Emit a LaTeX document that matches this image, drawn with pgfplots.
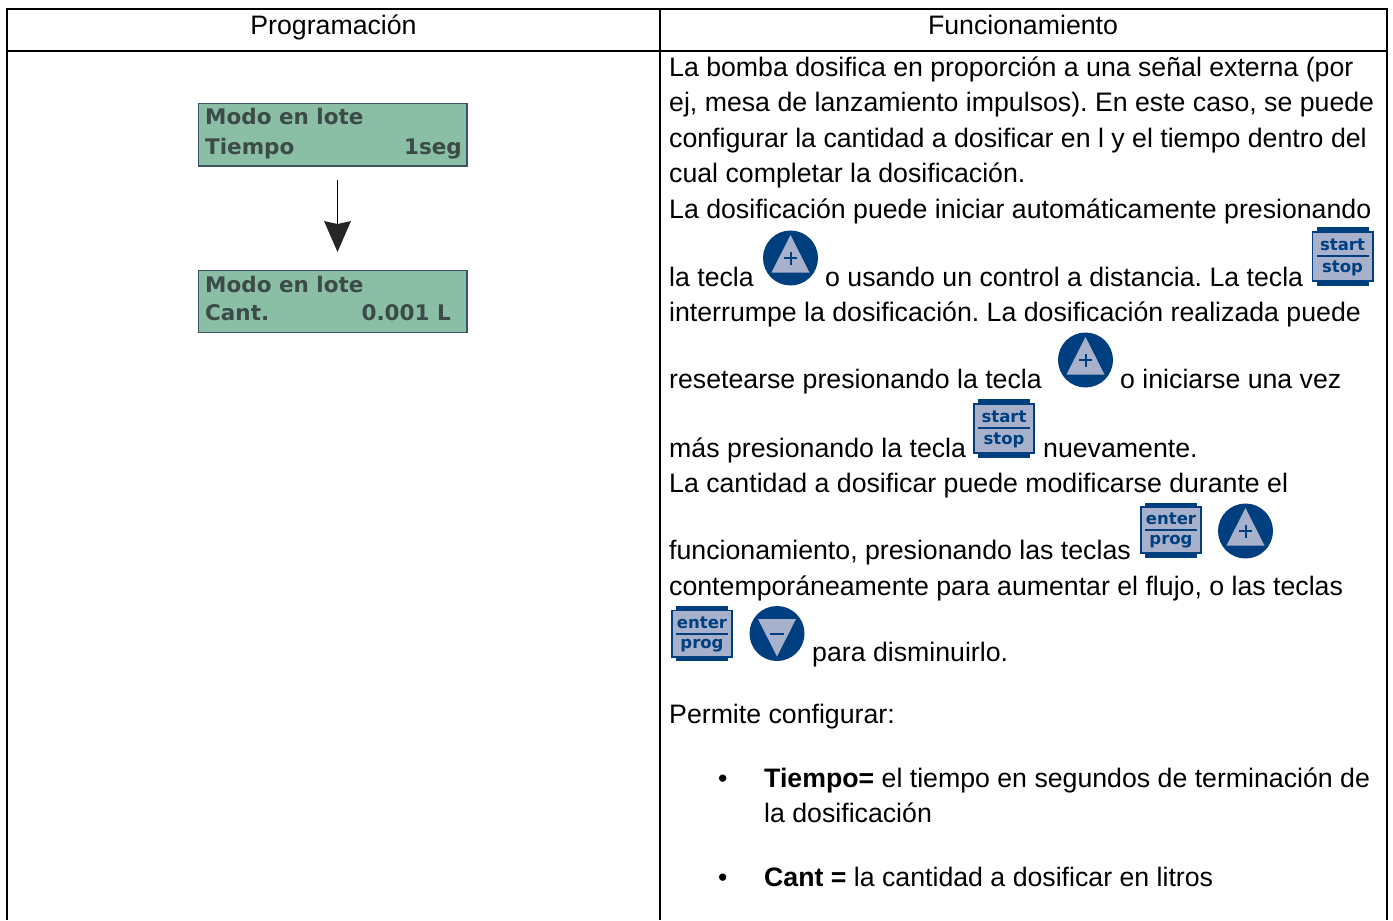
\documentclass[border=0pt]{standalone}
\usepackage{pgfplots}
\pgfplotsset{compat=1.18}
\usepackage{fontspec}
\setmainfont{Liberation Sans}
\newfontfamily\lcdfont{DejaVu Sans}[BoldFont={DejaVu Sans Bold}]
\frenchspacing
\definecolor{kb}{HTML}{003F7F}
\definecolor{kl}{HTML}{A8B1CC}
\definecolor{lcdg}{HTML}{8ABFA6}
\definecolor{lcdb}{HTML}{3B5565}
\definecolor{lcdt}{HTML}{3C4A48}
\newcommand{\T}[3]{\node[anchor=base west,inner sep=0pt,font=\fontsize{26.7}{30}\selectfont,text=black] at (axis cs:#1,#2) {#3};}
\newcommand{\LCD}[4][]{\node[anchor=base #1,inner sep=0pt,font=\lcdfont\bfseries\fontsize{21.5}{24}\selectfont,text=lcdt] at (axis cs:#2,#3) {#4};}
\newcommand{\KeyBase}[2]{%
 \fill[kb] (axis cs:#1-26,#2-29.5) rectangle (axis cs:#1+26,#2+29.5);
 \fill[kb] (axis cs:#1-31,#2-25) rectangle (axis cs:#1+31,#2+26);
 \fill[kl] (axis cs:#1-29.3,#2-23.3) rectangle (axis cs:#1+29.3,#2+24.3);
 \fill[kb] (axis cs:#1-26,#2-1) rectangle (axis cs:#1+26,#2+1.3);}
\newcommand{\EnterBase}[2]{%
 \fill[kb] (axis cs:#1-26,#2-27.5) rectangle (axis cs:#1+26,#2+27.5);
 \fill[kb] (axis cs:#1-31,#2-24) rectangle (axis cs:#1+31,#2+24);
 \fill[kl] (axis cs:#1-29.3,#2-22.3) rectangle (axis cs:#1+29.3,#2+22.3);
 \fill[kb] (axis cs:#1-26,#2-1) rectangle (axis cs:#1+26,#2+1.3);}
\newcommand{\KeyText}[3]{\node[inner sep=0pt,anchor=base,font=\lcdfont\bfseries\fontsize{16.5}{18}\selectfont,text=kb] at (axis cs:#1,#2) {#3};}
\newcommand{\Start}[2]{\KeyBase{#1}{#2}\KeyText{#1}{#2-5.5}{start}\KeyText{#1}{#2+16.5}{stop}}
\newcommand{\Enter}[2]{\EnterBase{#1}{#2}\KeyText{#1}{#2-5.5}{enter}\KeyText{#1}{#2+14.5}{prog}}
\newcommand{\Plus}[2]{%
 \node[circle,fill=kb,minimum size=55pt,inner sep=0pt] at (axis cs:#1,#2) {};
 \fill[kl] (axis cs:#1,#2-23) -- (axis cs:#1+19,#2+14.5) -- (axis cs:#1-19,#2+14.5) -- cycle;
 \fill[kb] (axis cs:#1-6.5,#2-1) rectangle (axis cs:#1+6.5,#2+1);
 \fill[kb] (axis cs:#1-1,#2-6.5) rectangle (axis cs:#1+1,#2+6.5);}
\newcommand{\Minus}[2]{%
 \node[circle,fill=kb,minimum size=55pt,inner sep=0pt] at (axis cs:#1,#2) {};
 \fill[kl] (axis cs:#1,#2+23) -- (axis cs:#1+19,#2-14.5) -- (axis cs:#1-19,#2-14.5) -- cycle;
 \fill[kb] (axis cs:#1-7,#2-1) rectangle (axis cs:#1+7,#2+1);}
\begin{document}
\begin{tikzpicture}
\begin{axis}[scale only axis,width=1393pt,height=920pt,xmin=0,xmax=1393,ymin=0,ymax=920,y dir=reverse,hide axis,clip=false]
\fill[white] (axis cs:0,0) rectangle (axis cs:1393,920);
% table rules
\addplot[black,line width=2pt,forget plot] coordinates {(7,920) (7,9) (1387,9) (1387,920)};
\addplot[black,line width=2pt,forget plot] coordinates {(6,51) (1388,51)};
\addplot[black,line width=2pt,forget plot] coordinates {(660,9) (660,920)};
% headers
\node[anchor=base,inner sep=0pt,font=\fontsize{26.7}{30}\selectfont] at (axis cs:333.5,34) {Programación};
\node[anchor=base,inner sep=0pt,font=\fontsize{26.7}{30}\selectfont] at (axis cs:1023,34) {Funcionamiento};
% LCDs
\draw[lcdb,fill=lcdg,line width=1.6pt] (axis cs:198.5,103.5) rectangle (axis cs:467,166);
\draw[lcdb,fill=lcdg,line width=1.6pt] (axis cs:198.5,270.5) rectangle (axis cs:467,332.5);
\LCD[west]{205}{124}{Modo en lote}
\LCD[west]{205}{154}{Tiempo}
\LCD[east]{462}{154}{1seg}
\LCD[west]{205}{292}{Modo en lote}
\LCD[west]{205}{320}{Cant.}
\LCD[east]{451}{320}{0.001 L}
% arrow
\addplot[black,line width=1pt,forget plot] coordinates {(337.5,180) (337.5,225)};
\fill[black!85] (axis cs:324,221) -- (axis cs:337.5,224) -- (axis cs:351,221) -- (axis cs:337.5,252) -- cycle;
% body text
\T{669}{76}{La bomba dosifica en proporción a una señal externa (por}
\T{669}{111}{ej, mesa de lanzamiento impulsos). En este caso, se puede}
\T{669}{147}{configurar la cantidad a dosificar en l y el tiempo dentro del}
\T{669}{182}{cual completar la dosificación.}
\T{669}{218}{La dosificación puede iniciar automáticamente presionando}
\T{669}{286}{la tecla}
\Plus{790.5}{258}
\T{825}{286}{o usando un control a distancia. La tecla}
\Start{1342.5}{256}
\T{669}{321}{interrumpe la dosificación. La dosificación realizada puede}
\T{669}{388}{resetearse presionando la tecla}
\Plus{1085.5}{360}
\T{1120}{388}{o iniciarse una vez}
\T{669}{457}{más presionando la tecla}
\Start{1004}{428}
\T{1043}{457}{nuevamente.}
\T{669}{492}{La cantidad a dosificar puede modificarse durante el}
\T{669}{559}{funcionamiento, presionando las teclas}
\Enter{1171}{530}
\Plus{1245.5}{531}
\T{669}{595}{contemporáneamente para aumentar el flujo, o las teclas}
\Enter{702}{633.5}
\Minus{777}{633.5}
\T{812}{661}{para disminuirlo.}
\T{669}{723}{Permite configurar:}
\T{718}{787}{•}
\T{764}{787}{\textbf{Tiempo=} el tiempo en segundos de terminación de}
\T{764}{822}{la dosificación}
\T{718}{886}{•}
\T{764}{886}{\textbf{Cant =} la cantidad a dosificar en litros}
\end{axis}
\end{tikzpicture}
\end{document}
